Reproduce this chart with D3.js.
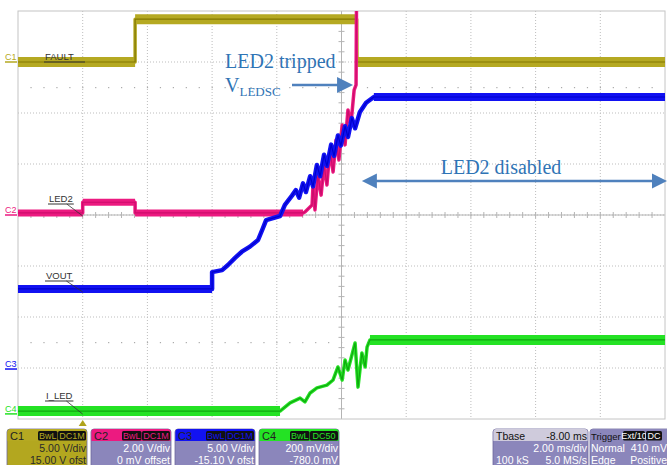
<!DOCTYPE html>
<html>
<head>
<meta charset="utf-8">
<script src="https://cdn.jsdelivr.net/npm/d3@7"></script>
<style>
  html, body { margin: 0; padding: 0; background: #ffffff; }
  svg { display: block; }
</style>
</head>
<body>
<svg id="scope" width="667" height="465" font-family="'Liberation Sans', Arial, sans-serif"></svg>
<script>
// ---- acquisition settings ----
const timeDomain = [-2, 18];          // ms, 2.00 ms/div, trigger at t = 0
const divDomain = [-4, 4];            // vertical divisions
const channelNames = ["C1", "C2", "C3", "C4"];
const traceLabels = ["FAULT", "LED2", "VOUT", "I_LED"];
const voltsPerDiv = [5, 2, 5, 0.2];
const channelOffsets = [15, 0, -15.1, -0.78];
const channelColors = ["#b5a922", "#ec1a80", "#1212f2", "#24e224"];
const channelCores = ["#837800", "#cc0c6c", "#0000cc", "#0fa80f"];
const bandWidths = [10, 7, 8, 10];
const rampWidths = [3.5, 3.5, 4.5, 3.5];

// ---- traces: [time ms, volts] ----
const faultData = [[-2, 0], [1.62, 0], [1.62, 4.2], [8.47, 4.2], [8.48, 0], [18, 0]];
const led2Data = [[-2, 0.08], [0, 0.08], [0, 0.5], [1.62, 0.5], [1.62, 0.08], [6.81, 0.08],
  [6.87, 0.12], [7.09, 0.39], [7.12, 1.18], [7.18, 0.2], [7.27, 1.57], [7.37, 0.78],
  [7.46, 1.96], [7.55, 1.18], [7.64, 2.55], [7.74, 1.69], [7.83, 2.94], [7.92, 2.16],
  [8.02, 3.53], [8.11, 2.75], [8.20, 4.12], [8.29, 3.53], [8.39, 4.9], [8.45, 5.1],
  [8.48, 12], [18, 12]];
const voutData = [[-2, 7.85], [4.0, 7.85], [4.0, 9.5], [4.31, 9.7], [4.49, 10.2],
  [4.71, 10.9], [4.92, 11.5], [5.17, 12.0], [5.42, 12.65], [5.57, 13.8], [5.67, 14.6],
  [6.10, 15.0], [6.25, 16.1], [6.47, 17.0], [6.59, 17.55], [6.69, 16.8], [6.81, 18.2],
  [6.90, 17.35], [7.03, 18.9], [7.12, 17.9], [7.24, 20.0], [7.34, 18.9], [7.46, 21.0],
  [7.55, 19.9], [7.68, 22.0], [7.77, 20.9], [7.89, 22.9], [7.98, 21.9], [8.11, 23.8],
  [8.20, 22.75], [8.32, 24.6], [8.42, 23.6], [8.57, 25.2], [8.76, 26.1], [9.0, 26.67],
  [18, 26.67]];
const iledData = [[-2, 0.011], [6.10, 0.011], [6.41, 0.043], [6.72, 0.062], [6.87, 0.047],
  [7.03, 0.082], [7.24, 0.102], [7.55, 0.113], [7.74, 0.133], [7.89, 0.184], [8.02, 0.133],
  [8.11, 0.211], [8.20, 0.172], [8.42, 0.278], [8.51, 0.105], [8.63, 0.239], [8.73, 0.184],
  [8.79, 0.262], [8.88, 0.29], [18, 0.29]];
const traces = [faultData, led2Data, voutData, iledData];

// ---- annotations ----
const trippedText = "LED2 tripped";
const vledscMain = "V";
const vledscSub = "LEDSC";
const disabledText = "LED2 disabled";
const trippedPoint = [8.45, 5.1];      // last on-screen LED2 sample before the trip
const disabledStart = 8.63;           // ms

// ---- readout panel ----
const vdivLabels = ["5.00 V/div", "2.00 V/div", "5.00 V/div", "200 mV/div"];
const offsetLabels = ["15.00 V ofst", "0 mV offset", "-15.10 V ofst", "-780.0 mV"];
const couplingLabels = ["DC1M", "DC1M", "DC1M", "DC50"];
const tbaseLabels = ["Tbase", "-8.00 ms", "2.00 ms/div", "100 kS", "5.0 MS/s"];
const triggerLabels = ["Trigger", "Ext/10", "DC", "Normal", "410 mV", "Edge", "Positive"];

// ---- layout ----
const plot = { left: 18, top: 11, right: 665, bottom: 419 };
const serif = "'Liberation Serif', 'Times New Roman', serif";
const svg = d3.select("#scope");

const x = d3.scaleLinear().domain(timeDomain).range([plot.left, plot.right]);
const yDiv = d3.scaleLinear().domain(divDomain).range([plot.bottom, plot.top]);
const yCh = i => v => yDiv((v + channelOffsets[i]) / voltsPerDiv[i]);

svg.append("defs").append("clipPath").attr("id", "plotClip")
  .append("rect").attr("x", plot.left).attr("y", plot.top)
  .attr("width", plot.right - plot.left).attr("height", plot.bottom - plot.top);

// ---- graticule ----
const grid = svg.append("g");
const xMajor = d3.range(timeDomain[0], timeDomain[1] + 0.001, 2);
const yMajor = d3.range(divDomain[0], divDomain[1] + 0.001, 1);
grid.selectAll("line.vx").data(xMajor.slice(1, -1)).join("line")
  .attr("x1", d => x(d)).attr("x2", d => x(d))
  .attr("y1", plot.top).attr("y2", plot.bottom)
  .attr("stroke", "#bdbdbd").attr("stroke-dasharray", "1,2");
grid.selectAll("line.hy").data(yMajor.slice(1, -1)).join("line")
  .attr("x1", plot.left).attr("x2", plot.right)
  .attr("y1", d => yDiv(d)).attr("y2", d => yDiv(d))
  .attr("stroke", "#bdbdbd").attr("stroke-dasharray", "1,2");
// sparse dot rows
const dotXs = d3.range(timeDomain[0] + 0.4, timeDomain[1], 0.4);
[2.5, -2.5].forEach(dv => {
  grid.selectAll(null).data(dotXs).join("rect")
    .attr("x", d => x(d) - 0.5).attr("y", yDiv(dv) - 0.5)
    .attr("width", 1.2).attr("height", 1.2).attr("fill", "#aaaaaa");
});
// center crosshair with minor ticks
const xc = x((timeDomain[0] + timeDomain[1]) / 2), yc = yDiv(0);
grid.append("line").attr("x1", xc).attr("x2", xc).attr("y1", plot.top).attr("y2", plot.bottom)
  .attr("stroke", "#b4b4b4").attr("stroke-width", 1);
grid.append("line").attr("x1", plot.left).attr("x2", plot.right).attr("y1", yc).attr("y2", yc)
  .attr("stroke", "#b4b4b4").attr("stroke-width", 1);
grid.selectAll(null).data(d3.range(timeDomain[0] + 0.4, timeDomain[1], 0.4)).join("line")
  .attr("x1", d => x(d)).attr("x2", d => x(d)).attr("y1", yc - 3).attr("y2", yc + 3)
  .attr("stroke", "#b4b4b4");
grid.selectAll(null).data(d3.range(divDomain[0] + 0.2, divDomain[1], 0.2)).join("line")
  .attr("x1", xc - 3).attr("x2", xc + 3).attr("y1", d => yDiv(d)).attr("y2", d => yDiv(d))
  .attr("stroke", "#b4b4b4");
// frame
grid.append("rect").attr("x", plot.left).attr("y", plot.top)
  .attr("width", plot.right - plot.left).attr("height", plot.bottom - plot.top)
  .attr("fill", "none").attr("stroke", "#c4c4c4");

// ---- traces ----
const traceLayer = svg.append("g").attr("clip-path", "url(#plotClip)");
traces.forEach((data, i) => {
  const yy = yCh(i);
  const g = traceLayer.append("g");
  // noise band on quiet (flat) stretches
  const flats = d3.pairs(data).filter(([a, b]) => a[1] === b[1] && a[0] !== b[0]);
  g.selectAll("line").data(flats).join("line")
    .attr("x1", d => x(d[0][0])).attr("x2", d => x(d[1][0]))
    .attr("y1", d => yy(d[0][1])).attr("y2", d => yy(d[1][1]))
    .attr("stroke", channelColors[i]).attr("stroke-width", bandWidths[i]);
  const line = d3.line().x(d => x(d[0])).y(d => yy(d[1]));
  g.append("path").attr("d", line(data)).attr("fill", "none")
    .attr("stroke", channelColors[i]).attr("stroke-width", rampWidths[i]).attr("stroke-linejoin", "round");
  g.append("path").attr("d", line(data)).attr("fill", "none")
    .attr("stroke", channelCores[i]).attr("stroke-width", 1.2).attr("stroke-linejoin", "round");
});

// ---- channel ground markers ----
channelNames.forEach((name, i) => {
  const gy = yCh(i)(0);
  svg.append("text").attr("x", 5).attr("y", gy - 2).text(name)
    .attr("font-size", 9).attr("fill", channelColors[i]);
  svg.append("line").attr("x1", 5).attr("x2", 17).attr("y1", gy).attr("y2", gy)
    .attr("stroke", channelColors[i]).attr("stroke-width", 1.5);
});

// ---- trace labels with leaders to the trigger time ----
const labelPos = [[45, 60, false], [49, 202, true], [46, 279, true], [46, 399, true]];
traceLabels.forEach((lab, i) => {
  const [lx, ly, leader] = labelPos[i];
  const t = svg.append("text").attr("x", lx).attr("y", ly).text(lab)
    .attr("font-size", 9.5).attr("fill", "#333");
  const w = t.node().getComputedTextLength();
  const uEnd = lab === "FAULT" ? lx + 40 : lx + w + 1;
  svg.append("line").attr("x1", lx - 1).attr("x2", uEnd).attr("y1", ly + 2).attr("y2", ly + 2)
    .attr("stroke", "#333").attr("stroke-width", 1);
  if (leader) {
    const base = traces[i][0][1];
    svg.append("line").attr("x1", lx + w - 6).attr("y1", ly + 2)
      .attr("x2", x(0)).attr("y2", yCh(i)(base) + 3)
      .attr("stroke", "#333").attr("stroke-width", 0.8);
  }
});

// trigger position marker
svg.append("path")
  .attr("d", `M${x(0)},${plot.bottom + 1} l-4,6 h8 z`).attr("fill", "#b0a31c");

// ---- annotations ----
const annBlue = "#2f74b5", arrowBlue = "#4f81bd";
svg.append("text").attr("x", 225).attr("y", 68).text(trippedText)
  .attr("font-family", serif).attr("font-size", 20).attr("fill", annBlue);
const vt = svg.append("text").attr("x", 225).attr("y", 92)
  .attr("font-family", serif).attr("font-size", 20).attr("fill", annBlue);
vt.append("tspan").text(vledscMain);
vt.append("tspan").text(vledscSub).attr("font-size", 13).attr("dy", 4);
{
  const tipX = x(trippedPoint[0]) - 3, tipY = yCh(1)(trippedPoint[1]);
  svg.append("line").attr("x1", 292).attr("x2", tipX - 14).attr("y1", tipY).attr("y2", tipY)
    .attr("stroke", arrowBlue).attr("stroke-width", 2.5);
  svg.append("path").attr("d", `M${tipX},${tipY} l-16,-8 v16 z`).attr("fill", arrowBlue);
}
{
  const ay = 181, xl = x(disabledStart), xr = plot.right + 2;
  svg.append("line").attr("x1", xl + 12).attr("x2", xr - 12).attr("y1", ay).attr("y2", ay)
    .attr("stroke", arrowBlue).attr("stroke-width", 2.5);
  svg.append("path").attr("d", `M${xl},${ay} l15,-7.5 v15 z`).attr("fill", arrowBlue);
  svg.append("path").attr("d", `M${xr},${ay} l-15,-7.5 v15 z`).attr("fill", arrowBlue);
  svg.append("text").attr("x", 501).attr("y", 174).text(disabledText)
    .attr("text-anchor", "middle")
    .attr("font-family", serif).attr("font-size", 20).attr("fill", annBlue);
}

// ---- readout panel ----
const panelTop = 429, headerH = 12, lavender = "#8b86bb";
const panel = svg.append("g").attr("font-size", 10.5);
function box(bx, bw, headColor, bodyColor) {
  panel.append("rect").attr("x", bx).attr("y", panelTop).attr("width", bw).attr("height", 50)
    .attr("rx", 3).attr("fill", bodyColor).attr("stroke", "#6d689c").attr("stroke-width", 0.8);
  panel.append("path")
    .attr("d", `M${bx + 0.4},${panelTop + headerH} V${panelTop + 3} q0,-3 3,-3 H${bx + bw - 3.4} q3,0 3,3 V${panelTop + headerH} Z`)
    .attr("fill", headColor);
}
function tag(tx, tw, label, color) {
  panel.append("rect").attr("x", tx).attr("y", panelTop + 2).attr("width", tw).attr("height", 9.5)
    .attr("rx", 1.5).attr("fill", "#111");
  panel.append("text").attr("x", tx + tw / 2).attr("y", panelTop + 10).text(label)
    .attr("text-anchor", "middle").attr("font-size", 9).attr("fill", color);
}
channelNames.forEach((name, i) => {
  const bx = 7 + i * 84, bw = 80;
  const isC1 = i === 0;
  box(bx, bw, channelColors[i], isC1 ? "#b3a71f" : lavender);
  panel.append("text").attr("x", bx + 3).attr("y", panelTop + 10.5).text(name)
    .attr("font-size", 11).attr("fill", "#222");
  tag(bx + 31, 19.5, "BwL", channelColors[i]);
  tag(bx + 51, 28, couplingLabels[i], channelColors[i]);
  const txtColor = isC1 ? "#2a2a2a" : "#ffffff";
  panel.append("text").attr("x", bx + bw - 1).attr("y", panelTop + 23).text(vdivLabels[i])
    .attr("text-anchor", "end").attr("fill", txtColor);
  panel.append("text").attr("x", bx + bw - 1).attr("y", panelTop + 34.5).text(offsetLabels[i])
    .attr("text-anchor", "end").attr("fill", txtColor);
});
{
  const bx = 493, bw = 95;
  box(bx, bw, "#cfcbdc", lavender);
  panel.append("text").attr("x", bx + 3).attr("y", panelTop + 10.5).text(tbaseLabels[0]).attr("fill", "#111");
  panel.append("text").attr("x", bx + bw - 1).attr("y", panelTop + 10.5).text(tbaseLabels[1])
    .attr("text-anchor", "end").attr("fill", "#111");
  panel.append("text").attr("x", bx + bw - 1).attr("y", panelTop + 23).text(tbaseLabels[2])
    .attr("text-anchor", "end").attr("fill", "#fff");
  panel.append("text").attr("x", bx + 3).attr("y", panelTop + 34.5).text(tbaseLabels[3]).attr("fill", "#fff");
  panel.append("text").attr("x", bx + bw - 1).attr("y", panelTop + 34.5).text(tbaseLabels[4])
    .attr("text-anchor", "end").attr("fill", "#fff");
}
{
  const bx = 590, bw = 80;
  box(bx, bw, lavender, lavender);
  panel.append("text").attr("x", bx + 1).attr("y", panelTop + 10.5).text(triggerLabels[0])
    .attr("font-size", 9.5).attr("fill", "#111");
  tag(bx + 33, 22, triggerLabels[1], "#ffffff");
  tag(bx + 56, 16, triggerLabels[2], "#ffffff");
  panel.append("text").attr("x", bx + 1).attr("y", panelTop + 23).text(triggerLabels[3]).attr("fill", "#fff");
  panel.append("text").attr("x", bx + bw - 3).attr("y", panelTop + 23).text(triggerLabels[4])
    .attr("text-anchor", "end").attr("fill", "#fff");
  panel.append("text").attr("x", bx + 1).attr("y", panelTop + 34.5).text(triggerLabels[5]).attr("fill", "#fff");
  panel.append("text").attr("x", bx + bw - 3).attr("y", panelTop + 34.5).text(triggerLabels[6])
    .attr("text-anchor", "end").attr("fill", "#fff");
}
</script>
</body>
</html>
